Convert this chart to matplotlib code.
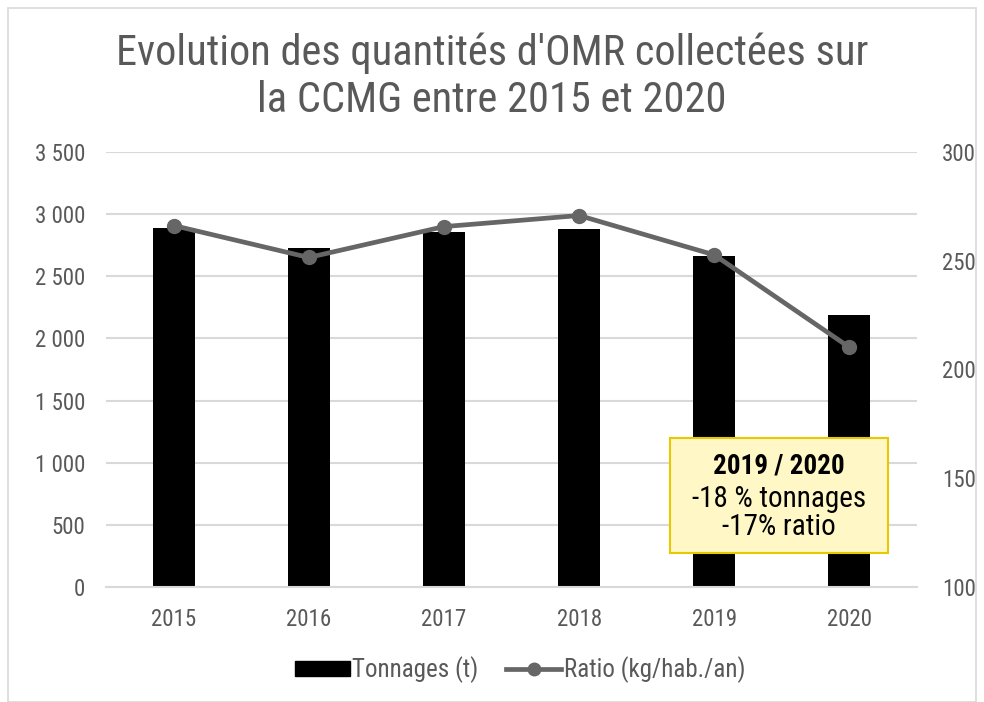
import matplotlib
matplotlib.use("Agg")
import matplotlib.pyplot as plt
from matplotlib import font_manager as fm
from matplotlib.patches import Rectangle, Patch
from matplotlib.ticker import FuncFormatter, MultipleLocator
from matplotlib.lines import Line2D

# pick a narrow font if one is installed
names = {f.name for f in fm.fontManager.ttflist}
cond_dejavu = any(f.name == "DejaVu Sans" and f.stretch == "condensed" for f in fm.fontManager.ttflist)
stretch = "normal"
if "Roboto Condensed" in names:
    fam = "Roboto Condensed"
elif "Liberation Sans Narrow" in names:
    fam = "Liberation Sans Narrow"
elif cond_dejavu:
    fam = "DejaVu Sans"
    stretch = "condensed"
else:
    fam = "Lato" if "Lato" in names else "DejaVu Sans"
plt.rcParams['font.family'] = [fam, 'DejaVu Sans']
plt.rcParams['font.stretch'] = stretch

years = ["2015", "2016", "2017", "2018", "2019", "2020"]
tonnages = [2888, 2730, 2853, 2880, 2660, 2191]
ratio = [266.2, 251.5, 265.7, 270.8, 252.7, 210.2]
title = "Evolution des quantités d'OMR collectées sur\nla CCMG entre 2015 et 2020"
note_title = "2019 / 2020"
note_lines = "-18 % tonnages\n-17% ratio"

W, H = 984, 702
fig = plt.figure(figsize=(W / 100, H / 100), dpi=100)
txt = "#595959"
grid = "#D9D9D9"

# outer frame
fig.patches.append(Rectangle((8 / W, 0), (976 - 8) / W, (H - 8) / H, transform=fig.transFigure,
                             fill=False, edgecolor="#D9D9D9", lw=1.2))

ax = fig.add_axes([106 / W, (H - 587) / H, 811 / W, (587 - 152) / H])
x = list(range(len(years)))
ax.bar(x, tonnages, width=0.31, color="black", zorder=2)
ax.set_xlim(-0.5, len(years) - 0.5)
ax.set_ylim(0, 3500)
ax.yaxis.set_major_locator(MultipleLocator(500))
ax.yaxis.set_major_formatter(FuncFormatter(lambda v, p: f"{int(v):,}".replace(",", " ")))
ax.grid(axis="y", color=grid, lw=1.5, zorder=0)
ax.set_axisbelow(True)
for s in ["top", "right", "left"]:
    ax.spines[s].set_visible(False)
ax.spines["bottom"].set_color(grid)
ax.spines["bottom"].set_linewidth(1.5)
ax.set_xticks(x)
ax.set_xticklabels(years)
ax.tick_params(axis="both", length=0, labelsize=16.5, labelcolor=txt)
ax.tick_params(axis="x", pad=15)
ax.tick_params(axis="y", pad=15)

ax2 = ax.twinx()
ax2.plot(x, ratio, color="#666666", lw=3.4, marker="o", markersize=10, zorder=3)
ax2.set_ylim(100, 300)
ax2.yaxis.set_major_locator(MultipleLocator(50))
for s in ax2.spines.values():
    s.set_visible(False)
ax2.tick_params(axis="y", length=0, labelsize=16.5, labelcolor=txt, pad=18)

fig.text(0.5, (H - 77) / H, title, ha="center", va="center", fontsize=30.5, color=txt,
         linespacing=1.2)

# annotation box
fig.patches.append(Rectangle((670 / W, (H - 553) / H), (888 - 670) / W, (553 - 438) / H,
                             transform=fig.transFigure, facecolor="#FFF8C6", edgecolor="#E8C800",
                             lw=1.5, zorder=5))
fig.text(779 / W, (H - 466) / H, note_title, ha="center", va="center", fontsize=19.5,
         fontweight="bold", color="black", zorder=6)
fig.text(779 / W, (H - 513) / H, note_lines, ha="center", va="center", fontsize=21,
         color="black", zorder=6, linespacing=1.02)

handles = [Patch(facecolor="black", edgecolor="black"),
           Line2D([], [], color="#666666", lw=3.4, marker="o", markersize=9)]
leg = fig.legend(handles, ["Tonnages (t)", "Ratio (kg/hab./an)"], loc="center",
                 bbox_to_anchor=(520 / W, (H - 670) / H), ncol=2, frameon=False,
                 fontsize=18, handlelength=2.2, handleheight=0.5, handletextpad=0.1,
                 columnspacing=1.1)
for t in leg.get_texts():
    t.set_color(txt)

fig.savefig("out.png", dpi=100)
